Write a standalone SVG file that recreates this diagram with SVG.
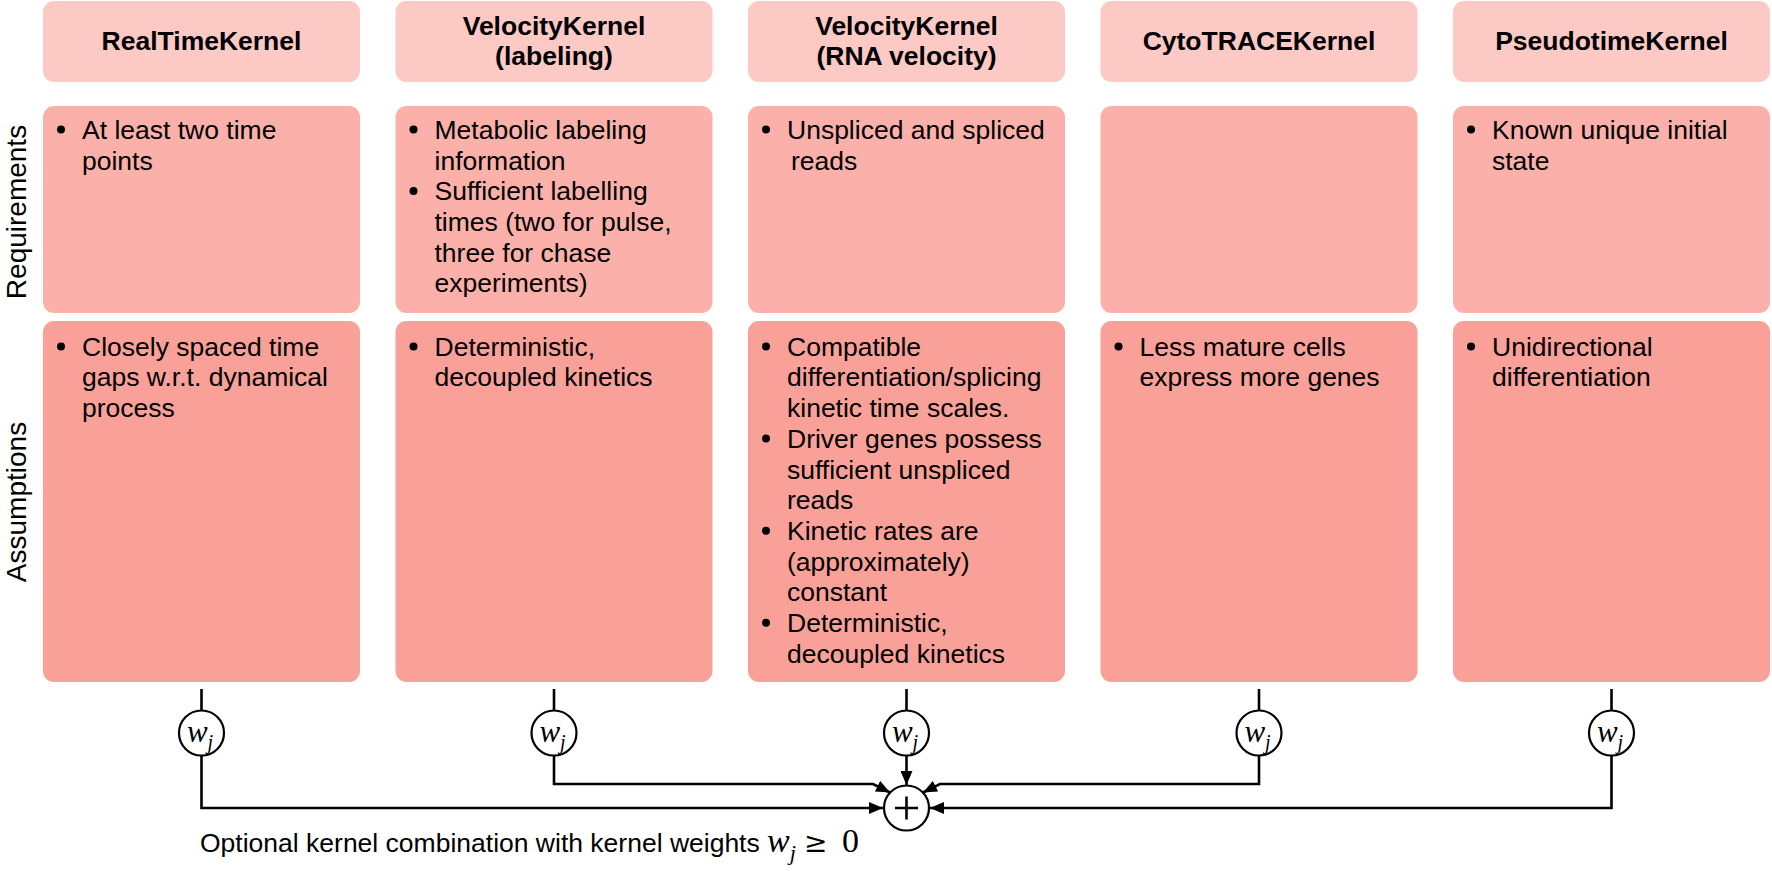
<svg xmlns="http://www.w3.org/2000/svg" width="1772" height="871" viewBox="0 0 1772 871">
<defs>
<style>
.hdr{fill:#fcc9c5}
.req{fill:#fbb0aa}
.asm{fill:#f9a099}
.ht{font-family:"Liberation Sans",Arial,sans-serif;font-size:26.5px;font-weight:bold;fill:#000;text-anchor:middle}
.bt{font-family:"Liberation Sans",Arial,sans-serif;font-size:26.5px;fill:#000}
.lbl{font-family:"Liberation Sans",Arial,sans-serif;font-size:28px;fill:#000;text-anchor:middle}
.math{font-family:"Liberation Serif","Times New Roman",serif;font-style:italic;fill:#000}
.mathn{font-family:"Liberation Serif","Times New Roman",serif;fill:#000}
.ln{fill:none;stroke:#000;stroke-width:2.6}
.wc{fill:#fff;stroke:#000;stroke-width:2.2}
.bul{fill:#000}
</style>
<marker id="arr" markerUnits="userSpaceOnUse" markerWidth="15" markerHeight="12" refX="14" refY="6" orient="auto">
<path d="M0,0 L14,6 L0,12 z" fill="#000"/>
</marker>
</defs>
<rect width="1772" height="871" fill="#fff"/>

<text class="lbl" transform="translate(26,212) rotate(-90)">Requirements</text>
<text class="lbl" transform="translate(26,502) rotate(-90)">Assumptions</text>

<g id="col1">
<rect class="hdr" x="43" y="1" width="317" height="81" rx="11"/>
<text class="ht" x="201.5" y="50">RealTimeKernel</text>
<rect class="req" x="43" y="106" width="317" height="207" rx="11"/>
<circle class="bul" cx="61" cy="129.5" r="4"/>
<text class="bt" y="138.8"><tspan x="82">At least two time</tspan><tspan x="82" dy="30.7">points</tspan></text>
<rect class="asm" x="43" y="321" width="317" height="361" rx="11"/>
<circle class="bul" cx="61" cy="346.5" r="4"/>
<text class="bt" y="355.7"><tspan x="82">Closely spaced time</tspan><tspan x="82" dy="30.7">gaps w.r.t. dynamical</tspan><tspan x="82" dy="30.7">process</tspan></text>
</g>

<g id="col2">
<rect class="hdr" x="395.5" y="1" width="317" height="81" rx="11"/>
<text class="ht" x="554" y="35">VelocityKernel</text>
<text class="ht" x="554" y="65">(labeling)</text>
<rect class="req" x="395.5" y="106" width="317" height="207" rx="11"/>
<circle class="bul" cx="413.5" cy="129.5" r="4"/>
<circle class="bul" cx="413.5" cy="190.9" r="4"/>
<text class="bt" y="138.8"><tspan x="434.5">Metabolic labeling</tspan><tspan x="434.5" dy="30.7">information</tspan><tspan x="434.5" dy="30.7">Sufficient labelling</tspan><tspan x="434.5" dy="30.7">times (two for pulse,</tspan><tspan x="434.5" dy="30.7">three for chase</tspan><tspan x="434.5" dy="30.7">experiments)</tspan></text>
<rect class="asm" x="395.5" y="321" width="317" height="361" rx="11"/>
<circle class="bul" cx="413.5" cy="346.5" r="4"/>
<text class="bt" y="355.7"><tspan x="434.5">Deterministic,</tspan><tspan x="434.5" dy="30.7">decoupled kinetics</tspan></text>
</g>

<g id="col3">
<rect class="hdr" x="748" y="1" width="317" height="81" rx="11"/>
<text class="ht" x="906.5" y="35">VelocityKernel</text>
<text class="ht" x="906.5" y="65">(RNA velocity)</text>
<rect class="req" x="748" y="106" width="317" height="207" rx="11"/>
<circle class="bul" cx="766" cy="129.5" r="4"/>
<text class="bt" y="138.8"><tspan x="787">Unspliced and spliced</tspan><tspan x="791" dy="30.7">reads</tspan></text>
<rect class="asm" x="748" y="321" width="317" height="361" rx="11"/>
<circle class="bul" cx="766" cy="346.5" r="4"/>
<circle class="bul" cx="766" cy="438.6" r="4"/>
<circle class="bul" cx="766" cy="530.7" r="4"/>
<circle class="bul" cx="766" cy="622.8" r="4"/>
<text class="bt" y="355.7"><tspan x="787">Compatible</tspan><tspan x="787" dy="30.7">differentiation/splicing</tspan><tspan x="787" dy="30.7">kinetic time scales.</tspan><tspan x="787" dy="30.7">Driver genes possess</tspan><tspan x="787" dy="30.7">sufficient unspliced</tspan><tspan x="787" dy="30.7">reads</tspan><tspan x="787" dy="30.7">Kinetic rates are</tspan><tspan x="787" dy="30.7">(approximately)</tspan><tspan x="787" dy="30.7">constant</tspan><tspan x="787" dy="30.7">Deterministic,</tspan><tspan x="787" dy="30.7">decoupled kinetics</tspan></text>
</g>

<g id="col4">
<rect class="hdr" x="1100.5" y="1" width="317" height="81" rx="11"/>
<text class="ht" x="1259" y="50">CytoTRACEKernel</text>
<rect class="req" x="1100.5" y="106" width="317" height="207" rx="11"/>
<rect class="asm" x="1100.5" y="321" width="317" height="361" rx="11"/>
<circle class="bul" cx="1118.5" cy="346.5" r="4"/>
<text class="bt" y="355.7"><tspan x="1139.5">Less mature cells</tspan><tspan x="1139.5" dy="30.7">express more genes</tspan></text>
</g>

<g id="col5">
<rect class="hdr" x="1453" y="1" width="317" height="81" rx="11"/>
<text class="ht" x="1611.5" y="50">PseudotimeKernel</text>
<rect class="req" x="1453" y="106" width="317" height="207" rx="11"/>
<circle class="bul" cx="1471" cy="129.5" r="4"/>
<text class="bt" y="138.8"><tspan x="1492">Known unique initial</tspan><tspan x="1492" dy="30.7">state</tspan></text>
<rect class="asm" x="1453" y="321" width="317" height="361" rx="11"/>
<circle class="bul" cx="1471" cy="346.5" r="4"/>
<text class="bt" y="355.7"><tspan x="1492">Unidirectional</tspan><tspan x="1492" dy="30.7">differentiation</tspan></text>
</g>

<g id="connectors">
<path class="ln" d="M201.5,689 V710.5"/>
<path class="ln" d="M554,689 V710.5"/>
<path class="ln" d="M906.5,689 V710.5"/>
<path class="ln" d="M1259,689 V710.5"/>
<path class="ln" d="M1611.5,689 V710.5"/>
<path class="ln" d="M201.5,755.5 V808 H883" marker-end="url(#arr)"/>
<path class="ln" d="M554,755.5 V784 H873 L890,792.5" marker-end="url(#arr)"/>
<path class="ln" d="M906.5,755.5 V785" marker-end="url(#arr)"/>
<path class="ln" d="M1259,755.5 V784 H940 L923,792.5" marker-end="url(#arr)"/>
<path class="ln" d="M1611.5,755.5 V808 H930" marker-end="url(#arr)"/>
</g>

<g id="w1"><circle class="wc" cx="201.5" cy="733" r="22.5"/><text class="math" x="200" y="742" font-size="31" text-anchor="middle">w<tspan font-size="20" dy="7">j</tspan></text></g>
<g id="w2"><circle class="wc" cx="554" cy="733" r="22.5"/><text class="math" x="552.5" y="742" font-size="31" text-anchor="middle">w<tspan font-size="20" dy="7">j</tspan></text></g>
<g id="w3"><circle class="wc" cx="906.5" cy="733" r="22.5"/><text class="math" x="905" y="742" font-size="31" text-anchor="middle">w<tspan font-size="20" dy="7">j</tspan></text></g>
<g id="w4"><circle class="wc" cx="1259" cy="733" r="22.5"/><text class="math" x="1257.5" y="742" font-size="31" text-anchor="middle">w<tspan font-size="20" dy="7">j</tspan></text></g>
<g id="w5"><circle class="wc" cx="1611.5" cy="733" r="22.5"/><text class="math" x="1610" y="742" font-size="31" text-anchor="middle">w<tspan font-size="20" dy="7">j</tspan></text></g>

<g id="sum">
<circle class="wc" cx="906.5" cy="808" r="22.5"/>
<path class="ln" d="M895,808 H918 M906.5,796.5 V819.5" stroke-width="2.5"/>
</g>

<g id="caption">
<text class="bt" x="200" y="852">Optional kernel combination with kernel weights</text>
<text class="math" x="767" y="852" font-size="34">w<tspan font-size="22" dy="8">j</tspan></text>
<text x="804" y="852" font-family="'DejaVu Serif',serif" font-size="28" fill="#000">≥</text>
<text class="mathn" x="842" y="852" font-size="34">0</text>
</g>
</svg>
